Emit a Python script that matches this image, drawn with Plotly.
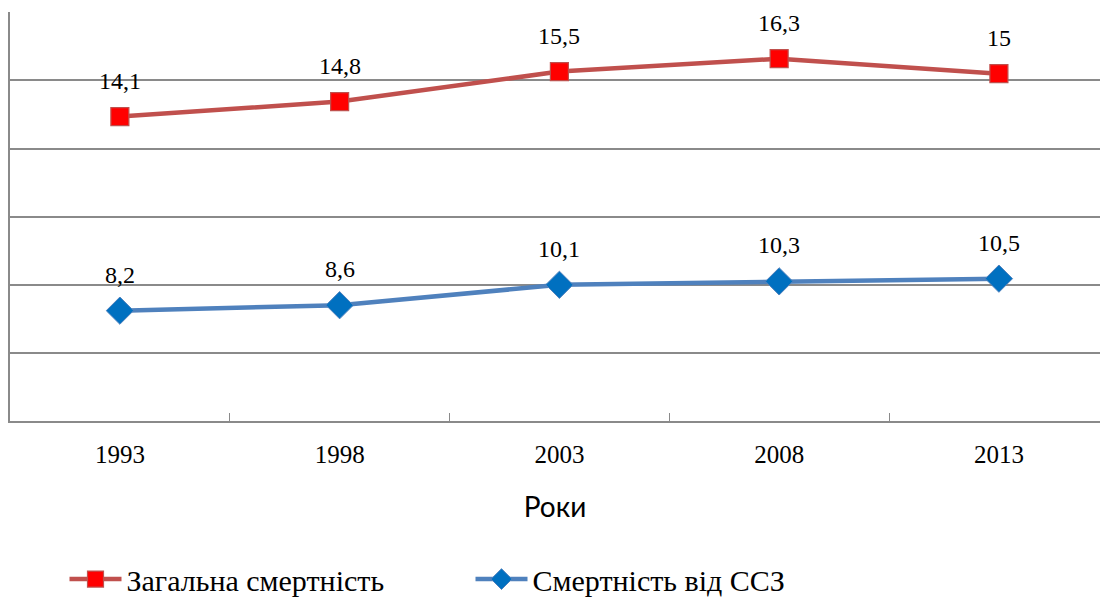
import plotly.graph_objects as go

years = ["1993", "1998", "2003", "2008", "2013"]
total_y = [4.47, 4.69, 5.13, 5.32, 5.10]
total_labels = ["14,1", "14,8", "15,5", "16,3", "15"]
cvd_y = [1.62, 1.70, 2.00, 2.05, 2.09]
cvd_labels = ["8,2", "8,6", "10,1", "10,3", "10,5"]

serif = "Liberation Serif"

fig = go.Figure()
fig.add_trace(go.Scatter(
    x=years, y=total_y, name="Загальна смертність", mode="lines+markers",
    line=dict(color="#C0504D", width=4.5),
    marker=dict(symbol="square", size=18, color="#FF0000",
                line=dict(color="#C0504D", width=1.2)),
))
fig.add_trace(go.Scatter(
    x=years, y=cvd_y, name="Смертність від ССЗ", mode="lines+markers",
    line=dict(color="#4F81BD", width=4.5),
    marker=dict(symbol="diamond", size=21, color="#0070C0",
                line=dict(color="#4F81BD", width=1)),
))

for ys, labs in ((total_y, total_labels), (cvd_y, cvd_labels)):
    for i, (yv, t) in enumerate(zip(ys, labs)):
        fig.add_annotation(x=i, xref="x", y=yv, yref="y", text=t, showarrow=False,
                           yshift=36, font=dict(family=serif, size=24, color="black"))

fig.update_layout(
    width=1100, height=597,
    margin=dict(l=10, r=0, t=12, b=176, autoexpand=False),
    paper_bgcolor="white", plot_bgcolor="white",
    showlegend=True,
    legend=dict(orientation="h", x=0.05, xanchor="left",
                yref="container", y=0.03, yanchor="middle",
                font=dict(family=serif, size=30, color="black"),
                itemwidth=52, entrywidth=339, entrywidthmode="pixels",
                bgcolor="rgba(0,0,0,0)"),
    xaxis=dict(type="category", range=[-0.5, 4.46], showgrid=False,
               showline=True, linecolor="#8a8a8a", linewidth=1.5,
               ticks="inside", ticklen=8, tickcolor="#8a8a8a", tickwidth=1.2,
               tickson="boundaries", ticklabelstandoff=10,
               tickfont=dict(family=serif, size=25, color="black"),
               title=dict(text="Роки", standoff=31,
                          font=dict(family="Lato, Open Sans, sans-serif", size=28, color="black"))),
    yaxis=dict(range=[0, 6.005], dtick=1, showticklabels=False, zeroline=False,
               showgrid=True, gridcolor="#8a8a8a", gridwidth=1.5,
               showline=True, linecolor="#8a8a8a", linewidth=1.5, ticks=""),
)

fig.write_html("out.html", config={"displayModeBar": False},
               post_script="document.body.style.margin='0';")
